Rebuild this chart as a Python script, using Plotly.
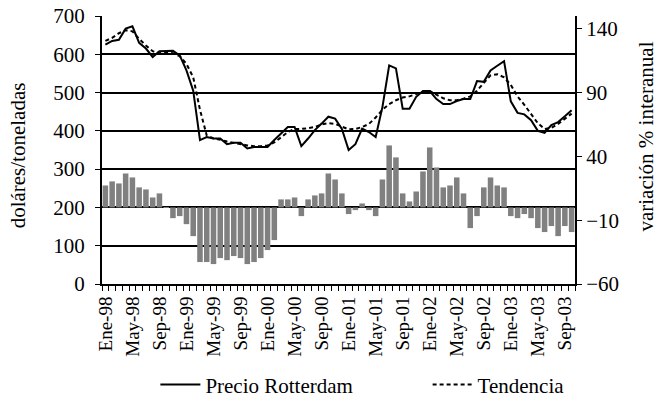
import plotly.graph_objects as go

month_names = ['Ene', 'Feb', 'Mar', 'Abr', 'May', 'Jun', 'Jul', 'Ago', 'Sep', 'Oct', 'Nov', 'Dic']
years = ['98', '99', '00', '01', '02', '03']
n_months = 70
categories = [f"{m}-{y}" for y in years for m in month_names][:n_months]

precio_rotterdam = [
    625, 635, 638, 667, 673, 630, 615, 593, 608, 609, 609, 597,
    558, 505, 376, 384, 380, 380, 365, 369, 369, 354, 358, 358,
    358, 376, 393, 410, 410, 360, 380, 402, 419, 437, 432, 405,
    350, 365, 406, 397, 384, 462, 571, 563, 458, 458, 489, 504,
    504, 483, 470, 470, 478, 483, 483, 530, 528, 558, 570, 582,
    477, 447, 443, 428, 400, 395, 415, 423, 438, 454,
]

tendencia = [
    635, 643, 655, 663, 660, 640, 623, 608, 603, 604, 603, 595,
    575, 540, 455, 388, 380, 377, 372, 368, 365, 362, 360, 360,
    362, 370, 383, 397, 405, 405, 407, 410, 417, 420, 418, 410,
    404, 405, 410, 418, 435, 455, 470, 480, 487, 490, 495, 502,
    504, 495, 485, 480, 480, 484, 490, 505, 525, 545, 548, 540,
    520, 490, 468, 445, 420, 405, 408, 418, 432, 445,
]

variacion = [
    17.2, 20.4, 18.8, 26.6, 23.5, 15.7, 14.1, 7.8, 11.0, 0.3, -8.4, -6.8,
    -13.1, -22.5, -42.8, -42.8, -44.4, -39.7, -41.3, -38.1, -39.7, -44.4, -42.8, -39.7,
    -33.4, -25.6, 6.3, 6.3, 7.8, -6.8, 6.3, 9.4, 11.0, 26.6, 21.9, 11.0,
    -5.2, -2.1, 3.1, -2.1, -6.8, 21.9, 48.6, 39.2, 11.0, 4.7, 12.5, 28.2,
    47.0, 31.3, 15.7, 17.2, 23.5, 11.0, -16.2, -6.8, 15.7, 23.5, 17.2, 15.7,
    -6.8, -8.4, -5.2, -8.4, -16.2, -19.3, -14.6, -22.5, -14.6, -19.3,
]

left_ticks = [0, 100, 200, 300, 400, 500, 600, 700]
right_ticks = [-60, -10, 40, 90, 140]
tick_text = [c if i % 4 == 0 else '' for i, c in enumerate(categories)]

FONT = 'Liberation Serif, Times New Roman, serif'
fs = 21

fig = go.Figure()
fig.add_trace(go.Bar(
    x=categories, y=variacion, yaxis='y2', marker=dict(color='#808080', line=dict(width=0)),
    showlegend=False, name='variación',
))
fig.add_trace(go.Scatter(
    x=categories, y=precio_rotterdam, mode='lines', name='Precio Rotterdam',
    line=dict(color='black', width=2), legend='legend',
))
fig.add_trace(go.Scatter(
    x=categories, y=tendencia, mode='lines', name='Tendencia',
    line=dict(color='black', width=2, dash='4px,3px'), legend='legend2',
))

legend_common = dict(
    orientation='h', xref='container', yref='container', xanchor='left', yanchor='middle',
    font=dict(family=FONT, size=fs), bgcolor='rgba(0,0,0,0)', itemwidth=40,
)

fig.update_layout(
    width=664, height=401,
    margin=dict(l=102, r=89, t=16, b=117, autoexpand=False),
    paper_bgcolor='white', plot_bgcolor='white',
    font=dict(family=FONT, size=fs, color='black'),
    bargap=0.18,
    xaxis=dict(
        type='category', tickvals=categories, ticktext=tick_text, tickangle=-90,
        tickson='boundaries', ticks='outside', ticklen=5, tickcolor='black', tickwidth=1,
        showline=True, linecolor='black', linewidth=2, showgrid=False,
        ticklabelstandoff=3,
        tickfont=dict(family=FONT, size=19),
    ),
    yaxis=dict(
        range=[0, 700], tickvals=left_ticks, ticks='outside', ticklen=5, tickcolor='black',
        showline=True, linecolor='black', linewidth=2, ticklabelstandoff=6,
        showgrid=True, gridcolor='black', gridwidth=1.5, zeroline=False,
        tickfont=dict(family=FONT, size=fs),
    ),
    yaxis2=dict(
        range=[-60, 150], tickvals=right_ticks, overlaying='y', side='right',
        ticks='outside', ticklen=5, tickcolor='black',
        showline=True, linecolor='black', linewidth=2, showgrid=False, zeroline=False,
        tickfont=dict(family=FONT, size=fs),
    ),
    legend=dict(x=0.234, y=0.04, **legend_common),
    legend2=dict(x=0.644, y=0.04, **legend_common),
    annotations=[
        dict(text='doláres/toneladas', xref='paper', yref='paper', x=-0.1776, y=0.48,
             textangle=-90, showarrow=False, font=dict(family=FONT, size=fs),
             xanchor='center', yanchor='middle'),
        dict(text='variación % interanual', xref='paper', yref='paper', x=1.15, y=0.55,
             textangle=-90, showarrow=False, font=dict(family=FONT, size=fs),
             xanchor='center', yanchor='middle'),
    ],
)

fig.write_html('out.html', config={'displayModeBar': False},
               post_script="document.body.style.margin='0';")
